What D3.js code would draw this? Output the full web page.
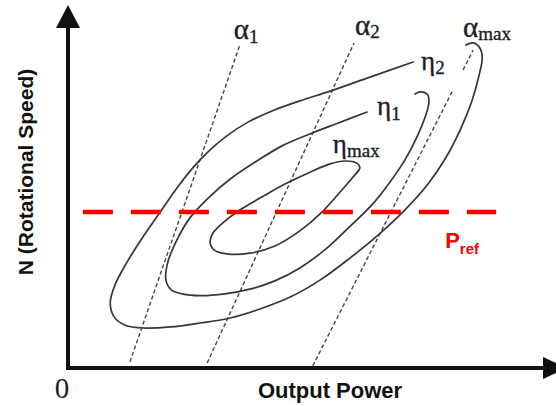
<!DOCTYPE html>
<html>
<head>
<meta charset="utf-8">
<script src="https://cdn.jsdelivr.net/npm/d3@7"></script>
<style>
  html, body { margin: 0; padding: 0; background: #fff; }
  svg { display: block; }
</style>
</head>
<body>
<svg id="chart" width="556" height="406"></svg>
<script>
// Efficiency map of the machine: output power (x) against rotational speed (y).
// Both axes are in relative units, 0..10.
const powerDomain = [0, 10];
const speedDomain = [0, 10];

// Iso-efficiency contours, points as [power, speed].
// The innermost one is closed; it starts at its upper-right tip.
const etaMaxContour = [
  [6.08, 5.56], [6.02, 5.69], [5.77, 5.75], [5.46, 5.67], [5.04, 5.44],
  [4.52, 5.11], [4.00, 4.72], [3.58, 4.39], [3.25, 4.06], [3.02, 3.75],
  [2.96, 3.50], [3.04, 3.28], [3.31, 3.17], [3.79, 3.19], [4.31, 3.39],
  [4.83, 3.81], [5.29, 4.33], [5.67, 4.89], [5.92, 5.28]
];
const eta1Contour = [
  [6.23, 7.11], [5.58, 6.78], [5.04, 6.50], [4.46, 6.17], [3.90, 5.72],
  [3.38, 5.25], [2.92, 4.72], [2.54, 4.17], [2.27, 3.56], [2.08, 2.94],
  [2.04, 2.44], [2.15, 2.17], [2.38, 2.06], [2.75, 2.01], [3.27, 2.06],
  [3.79, 2.19], [4.31, 2.42], [4.83, 2.78], [5.35, 3.28], [5.88, 3.94],
  [6.33, 4.53], [6.71, 5.17], [7.02, 5.78], [7.27, 6.42], [7.44, 6.97],
  [7.52, 7.39], [7.48, 7.61], [7.33, 7.67], [7.23, 7.61]
];
const eta2Contour = [
  [7.19, 8.50], [6.29, 8.08], [5.46, 7.69], [4.83, 7.42], [4.25, 7.14],
  [3.75, 6.83], [3.33, 6.47], [2.96, 6.06], [2.60, 5.56], [2.27, 5.00],
  [1.92, 4.33], [1.56, 3.64], [1.23, 2.94], [0.98, 2.31], [0.88, 1.81],
  [0.96, 1.42], [1.19, 1.19], [1.60, 1.11], [2.13, 1.14], [2.75, 1.25],
  [3.38, 1.39], [4.00, 1.64], [4.63, 1.97], [5.25, 2.44], [5.88, 3.06],
  [6.46, 3.69], [7.02, 4.39], [7.50, 5.11], [7.88, 5.86], [8.19, 6.67],
  [8.42, 7.44], [8.56, 8.11], [8.63, 8.61], [8.58, 8.89], [8.44, 9.03],
  [8.29, 8.97]
];

// Constant-alpha lines, each a list of dashed segments [[power, speed], [power, speed]].
const alpha1Segments = [[[1.29, 0.17], [3.58, 8.97]]];
const alpha2Segments = [[[2.90, 0.14], [5.96, 9.03]]];
const alphaMaxSegments = [[[5.10, 0.06], [8.00, 7.67]], [[8.23, 8.28], [8.44, 8.83]]];

// Reference level and its horizontal extent.
const prefSpeed = 4.33;
const prefPowerSpan = [0.31, 8.92];

// Text
const xTitle = "Output Power";
const yTitle = "N (Rotational Speed)";
const originLabel = "0";
const prefLabel = ["P", "ref"];

// ---------------------------------------------------------------------------
const svg = d3.select("#chart");
const x = d3.scaleLinear().domain(powerDomain).range([68, 548]);
const y = d3.scaleLinear().domain(speedDomain).range([368, 8]);

const serif = "'Liberation Serif', 'DejaVu Serif', serif";
const sans = "'Liberation Sans', Arial, sans-serif";
const labelInk = "#1c1c28";

const smooth = d3.line().x(d => x(d[0])).y(d => y(d[1])).curve(d3.curveCatmullRom.alpha(0.5));
const smoothClosed = d3.line().x(d => x(d[0])).y(d => y(d[1])).curve(d3.curveCatmullRomClosed.alpha(0.5));
const straight = d3.line().x(d => x(d[0])).y(d => y(d[1]));

// alpha lines (thin dashed)
const alphaGroup = svg.append("g")
  .attr("fill", "none")
  .attr("stroke", "#444")
  .attr("stroke-width", 1.4)
  .attr("stroke-dasharray", "4,2.6");
[alpha1Segments, alpha2Segments, alphaMaxSegments].forEach(segs => {
  alphaGroup.selectAll(null).data(segs).join("path").attr("d", straight);
});

// efficiency contours
const contourGroup = svg.append("g")
  .attr("fill", "none")
  .attr("stroke", "#363636")
  .attr("stroke-width", 1.7)
  .attr("stroke-linejoin", "round")
  .attr("stroke-linecap", "round");
contourGroup.append("path").attr("d", smooth(eta2Contour));
contourGroup.append("path").attr("d", smooth(eta1Contour));
contourGroup.append("path").attr("d", smoothClosed(etaMaxContour));

// reference level
svg.append("path")
  .attr("d", straight([[prefPowerSpan[0], prefSpeed], [prefPowerSpan[1], prefSpeed]]))
  .attr("fill", "none")
  .attr("stroke", "#ff0000")
  .attr("stroke-width", 4.5)
  .attr("stroke-dasharray", "30,18");

// axes with arrowheads
const x0 = x(powerDomain[0]), y0 = y(speedDomain[0]);
const xEnd = x(powerDomain[1]), yEnd = y(speedDomain[1]);
const axisGroup = svg.append("g").attr("stroke", "#111").attr("fill", "#111");
axisGroup.append("line")
  .attr("x1", x0).attr("y1", y0 + 2).attr("x2", x0).attr("y2", yEnd + 18)
  .attr("stroke-width", 4);
axisGroup.append("line")
  .attr("x1", x0 - 2).attr("y1", y0).attr("x2", xEnd - 2).attr("y2", y0)
  .attr("stroke-width", 4);
axisGroup.append("path")
  .attr("stroke", "none")
  .attr("d", `M${x0},${yEnd - 3}L${x0 - 12},${yEnd + 20}L${x0 + 12},${yEnd + 20}Z`);
axisGroup.append("path")
  .attr("stroke", "none")
  .attr("d", `M${xEnd + 19},${y0}L${xEnd - 5},${y0 - 11}L${xEnd - 5},${y0 + 11}Z`);

// axis titles
svg.append("text")
  .attr("x", 330).attr("y", 398)
  .attr("text-anchor", "middle")
  .attr("font-family", sans).attr("font-weight", "bold").attr("font-size", 22)
  .attr("fill", "#111")
  .text(xTitle);
svg.append("text")
  .attr("transform", "translate(33,172) rotate(-90)")
  .attr("text-anchor", "middle")
  .attr("font-family", sans).attr("font-weight", "bold").attr("font-size", 21)
  .attr("fill", "#111")
  .text(yTitle);
svg.append("text")
  .attr("x", x0 - 6).attr("y", 398)
  .attr("text-anchor", "middle")
  .attr("font-family", serif).attr("font-size", 29)
  .attr("fill", labelInk)
  .text(originLabel);

// symbol labels: main glyph + subscript, placed next to the end of each curve/line
function symbolLabel(px, py, main, mainSize, sub, subShift) {
  const t = svg.append("text")
    .attr("x", px).attr("y", py)
    .attr("font-family", serif).attr("fill", labelInk)
    .attr("stroke", labelInk).attr("stroke-width", 0.35);
  t.append("tspan").attr("font-size", mainSize).text(main);
  t.append("tspan").attr("font-size", 19).attr("dy", subShift).text(sub);
}
const topOf = segs => segs[segs.length - 1][1];
const a1 = topOf(alpha1Segments), a2 = topOf(alpha2Segments), am = topOf(alphaMaxSegments);
symbolLabel(x(a1[0]) - 6, y(a1[1]) - 6, "α", 29, "1", 4);
symbolLabel(x(a2[0]) + 1, y(a2[1]) - 8, "α", 29, "2", 3);
symbolLabel(x(am[0]) - 10, y(am[1]) - 13, "α", 29, "max", 3);
symbolLabel(x(eta2Contour[0][0]) + 8, y(eta2Contour[0][1]) + 8, "η", 27, "2", 4);
symbolLabel(x(eta1Contour[0][0]) + 10, y(eta1Contour[0][1]) + 3, "η", 27, "1", 5);
symbolLabel(x(etaMaxContour[0][0]) - 27, y(etaMaxContour[0][1]) - 15, "η", 27, "max", 4);

// reference label
const pref = svg.append("text")
  .attr("x", x(prefPowerSpan[1]) - 51).attr("y", y(prefSpeed) + 36)
  .attr("font-family", sans).attr("font-weight", "bold").attr("fill", "#ff0000");
pref.append("tspan").attr("font-size", 22).text(prefLabel[0]);
pref.append("tspan").attr("font-size", 15).attr("dy", 6).text(prefLabel[1]);
</script>
</body>
</html>
